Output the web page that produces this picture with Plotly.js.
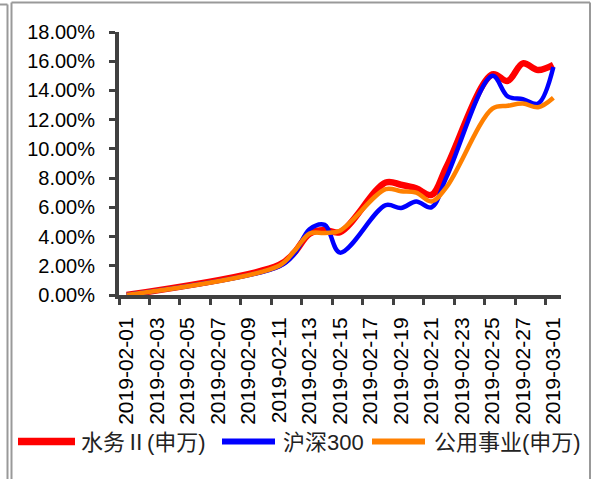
<!DOCTYPE html>
<html>
<head>
<meta charset="utf-8">
<script src="https://cdn.plot.ly/plotly-3.0.1.min.js"></script>
<style>html,body{margin:0;padding:0;background:#fff;}#chart{width:595px;height:479px;}</style>
</head>
<body>
<div id="chart"></div>
<script>
// ---- data (percent change since 2019-02-01) ----
const dates = ['2019-02-01','2019-02-11','2019-02-12','2019-02-13','2019-02-14','2019-02-15',
  '2019-02-18','2019-02-19','2019-02-20','2019-02-21','2019-02-22',
  '2019-02-25','2019-02-26','2019-02-27','2019-02-28','2019-03-01'];
const shuiwu   = [0, 2.05, 2.9, 4.2, 4.45, 4.3, 7.7, 7.55, 7.3, 6.85, 8.8, 15.1, 14.65, 15.85, 15.4, 15.75];
const hs300    = [0, 1.95, 2.8, 4.5, 4.8, 2.9, 6.15, 5.95, 6.4, 6.0, 8.1, 15.0, 13.6, 13.4, 13.1, 15.6];
const gongyong = [0, 2.0, 3.0, 4.2, 4.25, 4.4, 7.25, 7.1, 7.0, 6.4, 7.4, 12.75, 12.95, 13.1, 12.85, 13.5];
const seriesNames = ['水务Ⅱ(申万)', '沪深300', '公用事业(申万)'];
const tickLabels = ['2019-02-01','2019-02-03','2019-02-05','2019-02-07','2019-02-09','2019-02-11',
  '2019-02-13','2019-02-15','2019-02-17','2019-02-19','2019-02-21','2019-02-23','2019-02-25',
  '2019-02-27','2019-03-01'];
const yTicks = [0, 2, 4, 6, 8, 10, 12, 14, 16, 18];

// ---- layout helpers ----
const W = 595, H = 479;
const M = {l: 119, r: 34, t: 32, b: 184};
const PW = W - M.l - M.r, PH = H - M.t - M.b;
const px = x => (x - M.l) / PW;
const py = y => (H - M.b - y) / PH;
const noon = d => d + ' 12:00';

const colors = ['#ff0000', '#0000ff', '#ff8000'];
const widths = [6.5, 4.5, 4.5];
const series = [shuiwu, hs300, gongyong];

const traces = series.map((vals, i) => ({
  type: 'scatter', mode: 'lines',
  x: dates.map(noon), y: vals, name: seriesNames[i],
  line: {color: colors[i], width: widths[i], shape: 'spline', smoothing: 1},
  cliponaxis: false, showlegend: false, hoverinfo: 'skip'
}));

const axisColor = '#404040';
const font = 'Liberation Sans, Arial, Noto Sans CJK SC, sans-serif';

// manual legend
const legItems = [
  {x0: 18, x1: 75, tx: 79},
  {x0: 222, x1: 275, tx: 281},
  {x0: 372, x1: 425, tx: 432}
];
const legY = 441.5;
const shapes = [];
const annotations = [];
legItems.forEach((it, i) => {
  shapes.push({type: 'line', xref: 'paper', yref: 'paper', x0: px(it.x0), x1: px(it.x1), y0: py(legY), y1: py(legY),
    line: {color: colors[i], width: i === 0 ? 7.5 : 6}});
  annotations.push({xref: 'paper', yref: 'paper', x: px(it.tx), y: py(legY + 1), xanchor: 'left', yanchor: 'middle',
    showarrow: false, text: seriesNames[i], font: {family: font, size: 22, color: '#222'}});
});
// frame lines
const frameCol = '#999999';
[[0, 4.5, 7.5, 4.5], [7.5, 4.5, 7.5, 479], [11.5, 2.5, 11.5, 479], [11.5, 2.5, 590, 2.5], [590, 2.5, 590, 479]].forEach(s => {
  shapes.push({type: 'line', xref: 'paper', yref: 'paper', x0: px(s[0]), y0: py(s[1]), x1: px(s[2]), y1: py(s[3]),
    line: {color: frameCol, width: 2}});
});

const layout = {
  width: W, height: H, margin: M,
  paper_bgcolor: '#fff', plot_bgcolor: '#fff',
  showlegend: false,
  xaxis: {
    type: 'date',
    range: ['2019-02-01 00:00', '2019-03-02 00:00'],
    tickmode: 'array',
    tickvals: tickLabels.map(noon),
    ticktext: tickLabels,
    tickangle: -90,
    ticks: '', ticklabelstandoff: 10,
    tickfont: {family: font, size: 21, color: '#000'},
    showline: true, linecolor: axisColor, linewidth: 4,
    showgrid: false, zeroline: false,
    minor: {tickmode: 'array', tickvals: tickLabels, ticks: 'outside', ticklen: 6, tickwidth: 3, tickcolor: axisColor, showgrid: false},
    fixedrange: true
  },
  yaxis: {
    range: [0, 18],
    tickmode: 'array', tickvals: yTicks,
    ticktext: yTicks.map(v => v.toFixed(2) + '%'),
    ticks: 'outside', ticklen: 6, tickwidth: 3, tickcolor: axisColor,
    ticklabelstandoff: 10,
    tickfont: {family: font, size: 20, color: '#000'},
    showline: true, linecolor: axisColor, linewidth: 4,
    showgrid: false, zeroline: false, fixedrange: true
  },
  shapes: shapes,
  annotations: annotations
};

Plotly.newPlot('chart', traces, layout, {displayModeBar: false, staticPlot: true});
</script>
</body>
</html>
